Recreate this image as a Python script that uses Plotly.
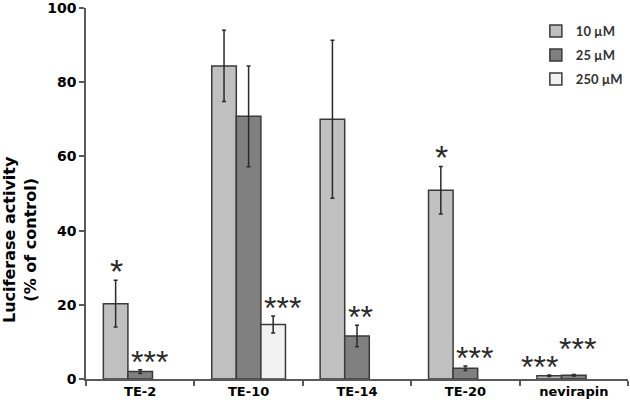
import plotly.graph_objects as go

categories = ["TE-2", "TE-10", "TE-14", "TE-20", "nevirapin"]
series_names = ["10 µM", "25 µM", "250 µM"]
values_10 = [20.3, 84.4, 70.0, 50.9, 0.9]
errors_10 = [6.3, 9.6, 21.3, 6.4, 0.2]
values_25 = [2.0, 70.8, 11.6, 2.9, 1.0]
errors_25 = [0.5, 13.6, 2.9, 0.6, 0.2]
values_250 = [None, 14.7, None, None, None]
errors_250 = [None, 2.3, None, None, None]
stars_10 = ["*", "", "", "*", "***"]
stars_25 = ["***", "", "**", "***", "***"]
stars_250 = ["", "***", "", "", ""]
y_title = "Luciferase activity<br>(% of control)"

colors = ["#c0c0c0", "#808080", "#f2f2f2"]
edge = "#3a3a3a"

fig = go.Figure()
all_vals = [values_10, values_25, values_250]
all_errs = [errors_10, errors_25, errors_250]
all_stars = [stars_10, stars_25, stars_250]
for name, v, e, c in zip(series_names, all_vals, all_errs, colors):
    fig.add_trace(go.Bar(
        x=categories, y=v, name=name, legendgroup=name,
        marker=dict(color=c, line=dict(color=edge, width=1.5)),
        error_y=dict(type="data", array=e, visible=True, color="#2a2a2a",
                     thickness=1.5, width=2),
    ))

# pixel geometry for annotations
M_L, M_R, M_T, M_B = 86, 2, 8, 28
W, H = 630, 407
plot_w = W - M_L - M_R
plot_h = H - M_T - M_B
cat_w = plot_w / len(categories)
bargap = 0.32
bar_w = cat_w * (1 - bargap) / 3

def star_style(label, si, ci):
    if label == "*":
        dx, size = 1, 34
    elif label == "**":
        dx, size = 3, 32
    else:
        dx, size = 9, 32
    raise_px = 0
    if categories[ci] == "nevirapin":
        if si == 0:
            dx = -10
        else:
            dx = 4
            raise_px = 18
    return dx, size, raise_px

for si, (stars, vals, errs) in enumerate(zip(all_stars, all_vals, all_errs)):
    for ci, lab in enumerate(stars):
        if not lab:
            continue
        top = (vals[ci] or 0) + (errs[ci] or 0)
        dx, size, raise_px = star_style(lab, si, ci)
        fig.add_annotation(
            x=categories[ci], y=top, xref="x", yref="y",
            text=lab, showarrow=False,
            xshift=(si - 1) * bar_w + dx, yshift=-12 + raise_px,
            yanchor="bottom", xanchor="center",
            font=dict(family="Liberation Sans, Arial", size=size, color="#2a2a2a"),
        )

# y-axis title as rotated annotation (centered lower, as in the reference)
title_cx, title_cy = 20, 240
fig.add_annotation(
    text=y_title, textangle=-90, showarrow=False,
    xref="paper", yref="paper",
    x=(title_cx - M_L) / plot_w, y=(H - M_B - title_cy) / plot_h,
    xanchor="center", yanchor="middle",
    font=dict(family="DejaVu Sans", size=16, color="black", weight="bold"),
)

fig.update_layout(
    width=W, height=H,
    margin=dict(l=M_L, r=M_R, t=M_T, b=M_B, autoexpand=False),
    paper_bgcolor="white", plot_bgcolor="white",
    barmode="group", bargap=bargap, bargroupgap=0,
    showlegend=True,
    legend=dict(x=0.83, y=0.978, xanchor="left", yanchor="top",
                font=dict(family="Lato, Open Sans", size=13, color="#333333", weight="bold"),
                bgcolor="rgba(0,0,0,0)", tracegroupgap=4, traceorder="grouped"),
    font=dict(family="DejaVu Sans", color="black"),
)
fig.update_xaxes(
    type="category", tickson="boundaries", ticks="outside", ticklen=5,
    tickcolor="#595959", tickwidth=1.5,
    showline=True, linecolor="#595959", linewidth=1.5,
    tickfont=dict(family="DejaVu Sans", size=13, color="black", weight="bold"),
    showgrid=False, zeroline=False, automargin=False,
)
fig.update_yaxes(
    range=[0, 100], tickvals=[0, 20, 40, 60, 80, 100], ticks="outside", ticklen=5,
    tickcolor="#595959", tickwidth=1.5,
    showline=True, linecolor="#595959", linewidth=1.5,
    tickfont=dict(family="DejaVu Sans", size=14, color="black", weight="bold"),
    ticklabeloverflow="allow",
    showgrid=False, zeroline=False, automargin=False,
)
fig.write_html("out.html", config={"displayModeBar": False})

with open("out.html", encoding="utf-8") as f:
    html = f.read()
html = html.replace("<head>", "<head><style>html,body{margin:0;padding:0;overflow:hidden;}</style>", 1)
with open("out.html", "w", encoding="utf-8") as f:
    f.write(html)
